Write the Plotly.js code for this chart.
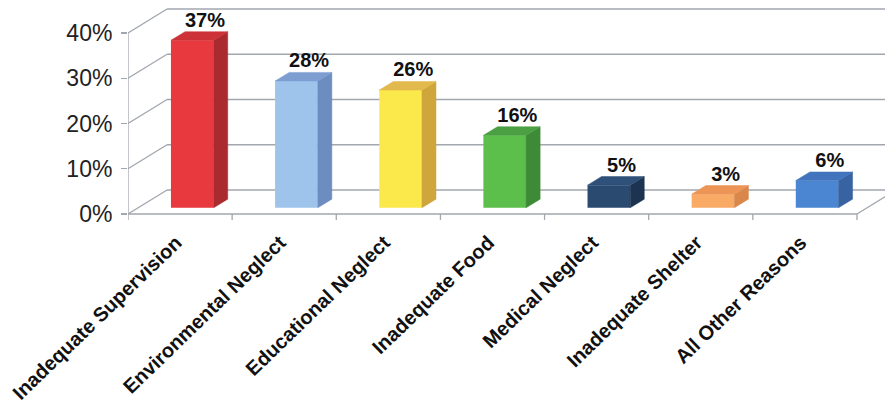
<!DOCTYPE html>
<html>
<head>
<meta charset="utf-8">
<script src="https://cdn.plot.ly/plotly-3.0.1.min.js"></script>
<style>html,body{margin:0;padding:0;background:#fff;}#chart{width:885px;height:404px;}</style>
</head>
<body>
<div id="chart"></div>
<script>
// ---- data ----
const categories = ['Inadequate Supervision','Environmental Neglect','Educational Neglect','Inadequate Food','Medical Neglect','Inadequate Shelter','All Other Reasons'];
const values = [37, 28, 26, 16, 5, 3, 6];
const valueLabels = ['37%','28%','26%','16%','5%','3%','6%'];
const frontColors = ['#e8393f','#9ec4ec','#fbe94c','#5dbf4b','#2b4a6f','#f9aa64','#4a86d2'];
const sideColors  = ['#a92a2f','#6d8cc0','#cfa63c','#3d8a37','#1c3451','#d9874a','#3763a2'];
const topColors   = ['#cc3237','#7e9ed2','#e2b94c','#4aa042','#2f5079','#ec9556','#4174bc'];
const yTickVals = [0, 10, 20, 30, 40];
const yTickText = ['0%','10%','20%','30%','40%'];

// ---- pseudo-3D projection settings ----
const DX = 0.375, DY = 5.3;   // full-depth offset in axis units
const D0 = 0.26, D1 = 0.62;   // bar depth span
const W = 0.41;               // bar width
const xMin = -0.5, nCat = categories.length;
const xMax = xMin + 757 / 104.14;
const yMin = -1.326, yMax = 47.29;
const gridColor = '#a2a6ae';

const idx = categories.map((c, i) => i);
const frontX = idx.map(i => i + D0 * DX + 0.02);

const traces = [];
traces.push({
  type: 'bar', x: frontX, y: values, base: values.map(() => D0 * DY), width: W,
  marker: {color: frontColors, line: {width: 0}}, hoverinfo: 'skip', showlegend: false
});
idx.forEach(i => {
  const cx = frontX[i], v = values[i], dd = (D1 - D0) * DX;
  const r = cx + W / 2, l = cx - W / 2;
  traces.push({
    type: 'scatter', mode: 'lines', fill: 'toself', fillcolor: sideColors[i],
    line: {width: 0.5, color: sideColors[i]}, hoverinfo: 'skip', showlegend: false,
    x: [r, r, r + dd, r + dd, r],
    y: [D0 * DY, v + D0 * DY, v + D1 * DY, D1 * DY, D0 * DY]
  });
  traces.push({
    type: 'scatter', mode: 'lines', fill: 'toself', fillcolor: topColors[i],
    line: {width: 0.5, color: topColors[i]}, hoverinfo: 'skip', showlegend: false,
    x: [l, r, r + dd, l + dd, l],
    y: [v + D0 * DY, v + D0 * DY, v + D1 * DY, v + D1 * DY, v + D0 * DY]
  });
});
traces.push({
  type: 'scatter', mode: 'text',
  x: idx.map(i => frontX[i] + (D1 - D0) * DX * 0.9),
  y: values.map(v => v + D1 * DY),
  text: valueLabels, textposition: 'top center',
  textfont: {family: 'Liberation Sans, Arial, sans-serif', size: 20, color: '#111', weight: 'bold'},
  hoverinfo: 'skip', showlegend: false, cliponaxis: false
});

// ---- walls, grid, floor as axis decoration ----
const shapes = [];
const ln = (x0, y0, x1, y1, w) => ({type: 'line', xref: 'x', yref: 'y', layer: 'below',
  x0, y0, x1, y1, line: {color: gridColor, width: w || 1.3}});
yTickVals.forEach(t => {
  shapes.push(ln(xMin, t, xMin + DX, t + DY));
  shapes.push(ln(xMin + DX, t + DY, xMax, t + DY));
});
shapes.push(ln(xMin, 0, xMin, 40));
shapes.push(ln(xMin, 0, xMin + nCat, 0));
shapes.push(ln(xMin + nCat, 0, xMin + nCat + DX, DY));
for (let k = 0; k <= nCat; k++) shapes.push(ln(xMin + k, 0, xMin + k, -1.3));

const layout = {
  width: 885, height: 404,
  margin: {l: 128, r: 0, t: 0, b: 184},
  paper_bgcolor: '#fff', plot_bgcolor: 'rgba(0,0,0,0)',
  showlegend: false,
  font: {family: 'Liberation Sans, Arial, sans-serif', color: '#222'},
  xaxis: {
    range: [xMin, xMax], tickmode: 'array', tickvals: idx, ticktext: categories,
    tickangle: -44, ticks: '', showgrid: false, zeroline: false, showline: false,
    anchor: 'free', position: 6 / 220, automargin: false, ticklabelstandoff: 12,
    ticklabelshift: -4,
    tickfont: {size: 20, color: '#111', weight: 'bold'}
  },
  yaxis: {
    range: [yMin, yMax], tickmode: 'array', tickvals: yTickVals, ticktext: yTickText,
    ticks: 'outside', ticklen: 6, tickcolor: gridColor, tickwidth: 1.3,
    showgrid: false, zeroline: false, showline: false, automargin: false,
    ticklabelstandoff: 4,
    tickfont: {size: 23, color: '#222'}
  },
  shapes: shapes
};
Plotly.newPlot('chart', traces, layout, {staticPlot: true, displayModeBar: false});
</script>
</body>
</html>
